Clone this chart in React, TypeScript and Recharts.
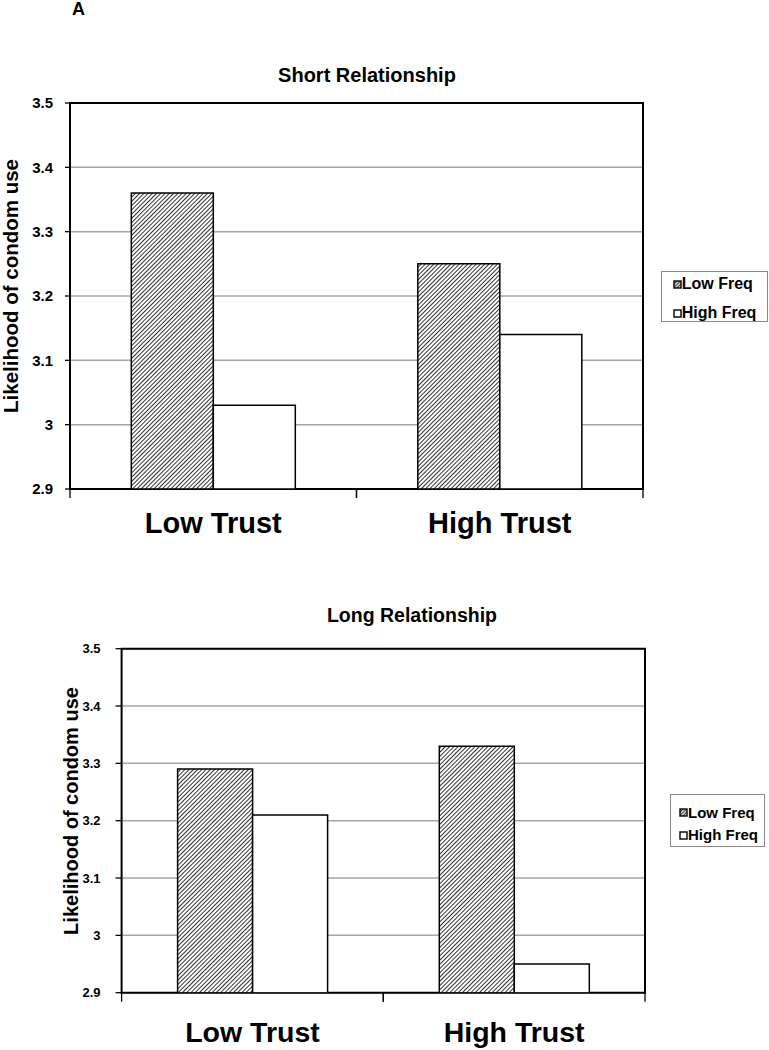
import React from 'react';
import { BarChart, Bar, XAxis, YAxis, CartesianGrid, ReferenceArea, Legend } from 'recharts';

const categories = ['Low Trust', 'High Trust'];
const seriesNames = ['Low Freq', 'High Freq'];
const shortLowFreq = [3.36, 3.25];
const shortHighFreq = [3.03, 3.14];
const longLowFreq = [3.29, 3.33];
const longHighFreq = [3.21, 2.95];
const yTicks = [2.9, 3.0, 3.1, 3.2, 3.3, 3.4, 3.5];
const yDomain = [2.9, 3.5];
const panelLabel = 'A';
const panelTitles = ['Short Relationship', 'Long Relationship'];
const yAxisTitle = 'Likelihood of condom use';

const FONT = '"Liberation Sans", Arial, Helvetica, sans-serif';

const buildData = (low: number[], high: number[]) =>
  categories.map((c, i) => ({ cat: c, low: low[i], high: high[i] }));

const shortData = buildData(shortLowFreq, shortHighFreq);
const longData = buildData(longLowFreq, longHighFreq);

const fmt = (v: number) => String(Math.round(v * 10) / 10);

function Hatch({ id }: { id: string }) {
  return (
    <pattern id={id} patternUnits="userSpaceOnUse" width={3} height={3} patternTransform="rotate(45)">
      <rect x={0} y={0} width={3} height={3} fill="#fff" />
      <line x1={1.5} y1={-1} x2={1.5} y2={4} stroke="#333" strokeWidth={1.0} />
    </pattern>
  );
}

const makeCatTick = (fontSize: number, dy: number) => (props: any) => {
  const { x, y, payload } = props;
  const half = payload && typeof payload.offset === 'number' ? payload.offset : 0;
  return (
    <g>
      <line x1={x - half} x2={x - half} y1={y - 9} y2={y} stroke="#000" strokeWidth={1.3} />
      <line x1={x + half} x2={x + half} y1={y - 9} y2={y} stroke="#000" strokeWidth={1.3} />
      <text x={x} y={y + dy} textAnchor="middle" fontFamily={FONT} fontWeight="bold" fontSize={fontSize} fill="#000">
        {payload.value}
      </text>
    </g>
  );
};

type LegendCfg = {
  left: number; top: number; width: number; height: number;
  rows: number[]; iconLeft: number; textLeft: number; fontSize: number; hatchId: string;
};

const LegendBox = ({ payload, cfg }: any) => {
  const c: LegendCfg = cfg;
  const items = (payload || []).slice().sort(
    (a: any, b: any) => seriesNames.indexOf(a.value) - seriesNames.indexOf(b.value)
  );
  return (
    <div style={{ position: 'relative', width: c.width, height: c.height, boxSizing: 'border-box', border: '1px solid #8a8a8a', background: '#fff' }}>
      {items.map((entry: any, i: number) => {
        const hatched = typeof entry.color === 'string' && entry.color.indexOf('url') === 0;
        return (
          <div key={i} style={{ position: 'absolute', left: 0, top: c.rows[i] - 10, height: 20, width: '100%' }}>
            <svg width={9} height={9} style={{ position: 'absolute', left: c.iconLeft - 1, top: 5.5 }}>
              <defs>
                <pattern id={c.hatchId + 'L' + i} patternUnits="userSpaceOnUse" width={2.4} height={2.4} patternTransform="rotate(45)">
                  <rect width={2.4} height={2.4} fill="#fff" />
                  <line x1={1.2} y1={-1} x2={1.2} y2={3.4} stroke="#222" strokeWidth={1.1} />
                </pattern>
              </defs>
              <rect x={1} y={1} width={7} height={7} fill={hatched ? `url(#${c.hatchId}L${i})` : '#fff'} stroke="#000" strokeWidth={1.4} />
            </svg>
            <span style={{ position: 'absolute', left: c.textLeft - 1, top: 0, lineHeight: '20px', fontFamily: FONT, fontWeight: 'bold', fontSize: c.fontSize, color: '#000', whiteSpace: 'nowrap' }}>
              {entry.value}
            </span>
          </div>
        );
      })}
    </div>
  );
};

type PanelProps = {
  data: any[]; top: number; height: number;
  margin: { top: number; right: number; left: number; bottom: number };
  yAxisWidth: number; yTickFont: number; yTickSize: number; yTickMargin: number;
  xLabelFont: number; xLabelDy: number; hatchId: string; legend: LegendCfg;
};

function Panel(p: PanelProps) {
  const CatTick = makeCatTick(p.xLabelFont, p.xLabelDy);
  return (
    <div style={{ position: 'absolute', left: 0, top: p.top, width: 769, height: p.height }}>
      <BarChart width={769} height={p.height} data={p.data} margin={p.margin} barCategoryGap="21.4%" barGap={0}>
        <defs>
          <Hatch id={p.hatchId} />
        </defs>
        <CartesianGrid vertical={false} stroke="#a6a6a6" strokeWidth={1.5} />
        <XAxis
          dataKey="cat"
          interval={0}
          tick={CatTick}
          tickLine={false}
          axisLine={false}
          tickSize={9}
          tickMargin={0}
          height={50}
        />
        <YAxis
          type="number"
          domain={yDomain}
          ticks={yTicks}
          interval={0}
          width={p.yAxisWidth}
          axisLine={false}
          tickLine={{ stroke: '#000', strokeWidth: 1.3 }}
          tickSize={p.yTickSize}
          tickMargin={p.yTickMargin}
          tick={{ fill: '#000', fontSize: p.yTickFont, fontWeight: 'bold', fontFamily: FONT }}
          tickFormatter={fmt}
          allowDataOverflow
        />
        <Bar dataKey="low" name={seriesNames[0]} fill={`url(#${p.hatchId})`} stroke="#000" strokeWidth={1.5} isAnimationActive={false} />
        <Bar dataKey="high" name={seriesNames[1]} fill="#fff" stroke="#000" strokeWidth={1.5} isAnimationActive={false} />
        <ReferenceArea y1={yDomain[0]} y2={yDomain[1]} fill="none" stroke="#000" strokeWidth={2} ifOverflow="visible" />
        <Legend
          layout="vertical"
          align="center"
          verticalAlign="middle"
          wrapperStyle={{ left: p.legend.left, top: p.legend.top, width: p.legend.width, height: p.legend.height }}
          content={(props: any) => <LegendBox {...props} cfg={p.legend} />}
        />
      </BarChart>
    </div>
  );
}

export default function App() {
  return (
    <div style={{ position: 'absolute', left: 0, top: 0, width: 769, height: 1050, background: '#fff', overflow: 'hidden' }}>
      <Panel
        data={shortData}
        top={0}
        height={545}
        margin={{ top: 103, right: 126, left: 0, bottom: 6 }}
        yAxisWidth={70}
        yTickFont={15}
        yTickSize={5}
        yTickMargin={12}
        xLabelFont={29}
        xLabelDy={35}
        hatchId="hatchShort"
        legend={{ left: 661, top: 271, width: 107, height: 51, rows: [12.3, 41], iconLeft: 12, textLeft: 20.7, fontSize: 16, hatchId: 'lgS' }}
      />
      <Panel
        data={longData}
        top={545}
        height={505}
        margin={{ top: 103.7, right: 124, left: 0, bottom: 7.3 }}
        yAxisWidth={121.6}
        yTickFont={13}
        yTickSize={6}
        yTickMargin={15}
        xLabelFont={28.5}
        xLabelDy={40.3}
        hatchId="hatchLong"
        legend={{ left: 670, top: 249, width: 95, height: 53, rows: [17.7, 40], iconLeft: 9, textLeft: 18, fontSize: 15, hatchId: 'lgL' }}
      />
      <svg width={769} height={1050} style={{ position: 'absolute', left: 0, top: 0, pointerEvents: 'none' }}>
        <text x={72} y={15} fontFamily={FONT} fontWeight="bold" fontSize={18} fill="#000">{panelLabel}</text>
        <text x={367} y={81.7} textAnchor="middle" fontFamily={FONT} fontWeight="bold" fontSize={20} fill="#000">{panelTitles[0]}</text>
        <text x={412} y={621.7} textAnchor="middle" fontFamily={FONT} fontWeight="bold" fontSize={19.5} fill="#000">{panelTitles[1]}</text>
        <text x={17.5} y={286} transform="rotate(-90, 17.5, 286)" textAnchor="middle" fontFamily={FONT} fontWeight="bold" fontSize={20.5} fill="#000">{yAxisTitle}</text>
        <text x={78} y={811} transform="rotate(-90, 78, 811)" textAnchor="middle" fontFamily={FONT} fontWeight="bold" fontSize={20} fill="#000">{yAxisTitle}</text>
      </svg>
    </div>
  );
}
